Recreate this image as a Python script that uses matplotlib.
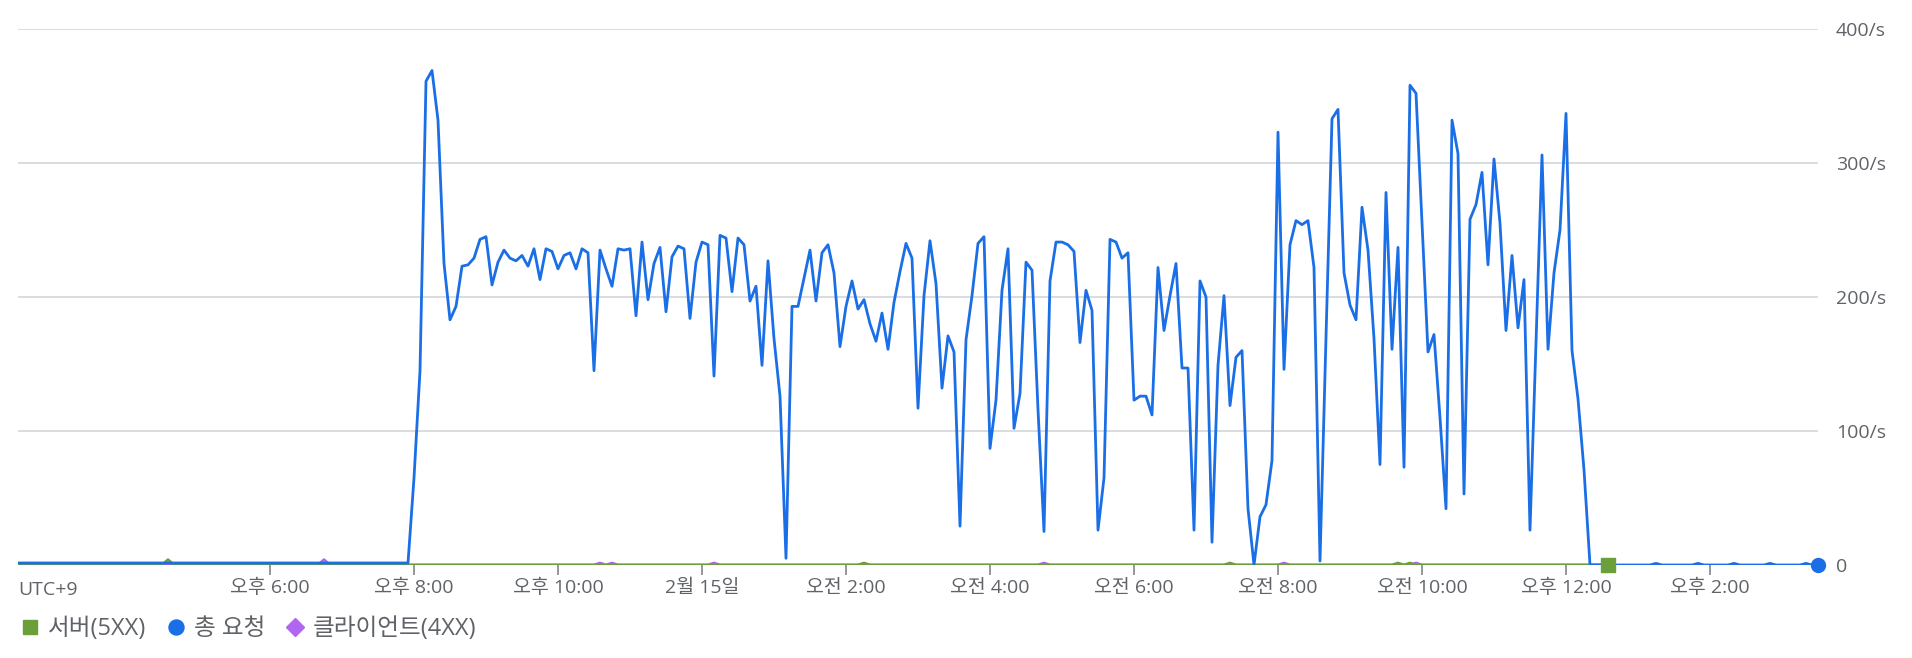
import matplotlib
matplotlib.use("Agg")
import matplotlib.pyplot as plt
from matplotlib.lines import Line2D
import pandas as pd

# 라틴 글자는 Open Sans, 한글은 Noto Sans CJK KR 로 넘어감
plt.rcParams['font.family'] = ['Open Sans', 'Noto Sans CJK KR', 'DejaVu Sans']

# 5분 간격: 2/14 14:30 ~ 2/15 15:30
times = pd.date_range('2024-02-14 14:30', periods=301, freq='5min')

# 총 요청 (req/s)
total_req = [
    1.5, 1.5, 1.5, 1.5, 1.5, 1.5, 1.5, 1.5, 1.5, 1.5,
    1.5, 1.5, 1.5, 1.5, 1.5, 1.5, 1.5, 1.5, 1.5, 1.5,
    1.5, 1.5, 1.5, 1.5, 1.5, 1.5, 1.5, 1.5, 1.5, 1.5,
    1.5, 1.5, 1.5, 1.5, 1.5, 1.5, 1.5, 1.5, 1.5, 1.5,
    1.5, 1.5, 1.5, 1.5, 1.5, 1.5, 1.5, 1.5, 1.5, 1.5,
    1.5, 1.5, 1.5, 1.5, 1.5, 1.5, 1.5, 1.5, 1.5, 1.5,
    1.5, 1.5, 1.5, 1.5, 1.5, 1.5, 65, 145, 361, 369,
    332, 225, 183, 193, 223, 224, 229, 243, 245, 209,
    226, 235, 229, 227, 231, 223, 236, 213, 236, 234,
    221, 231, 233, 221, 236, 233, 145, 235, 221, 208,
    236, 235, 236, 186, 241, 198, 225, 237, 189, 230,
    238, 236, 184, 226, 241, 239, 141, 246, 244, 204,
    244, 239, 197, 208, 149, 227, 169, 126, 5, 193,
    193, 214, 235, 197, 233, 239, 218, 163, 193, 212,
    191, 198, 180, 167, 188, 161, 196, 219, 240, 229,
    117, 201, 242, 210, 132, 171, 159, 29, 168, 201,
    240, 245, 87, 123, 205, 236, 102, 128, 226, 220,
    116, 25, 212, 241, 241, 239, 234, 166, 205, 190,
    26, 65, 243, 241, 229, 233, 123, 126, 126, 112,
    222, 175, 201, 225, 147, 147, 26, 212, 200, 17,
    149, 201, 119, 155, 160, 42, 0, 36, 45, 78,
    323, 146, 239, 257, 254, 257, 222, 3, 170, 333,
    340, 218, 194, 183, 267, 235, 169, 75, 278, 161,
    237, 73, 358, 352, 255, 159, 172, 110, 42, 332,
    307, 53, 258, 269, 293, 224, 303, 255, 175, 231,
    177, 213, 26, 165, 306, 161, 218, 250, 337, 160,
    124, 71, 0, 0, 0, 0, 0, 0, 0, 0,
    0, 0, 0, 1.2, 0, 0, 0, 0, 0, 0,
    1.2, 0, 0, 0, 0, 0, 1.2, 0, 0, 0,
    0, 0, 1.2, 0, 0, 0, 0, 0, 1.2, 0,
    0,
]

# 서버(5XX), 14:30 ~ 12:35
server_5xx = [
    0, 0, 0, 0, 0, 0, 0, 0, 0, 0, 0, 0, 0, 0, 0, 0, 0, 0, 0, 0,
    0, 0, 0, 0, 0, 4, 0, 0, 0, 0, 0, 0, 0, 0, 0, 0, 0, 0, 0, 0,
    0, 0, 0, 0, 0, 0, 0, 0, 0, 0, 0, 0, 0, 0, 0, 0, 0, 0, 0, 0,
    0, 0, 0, 0, 0, 0, 0, 0, 0, 0, 0, 0, 0, 0, 0, 0, 0, 0, 0, 0,
    0, 0, 0, 0, 0, 0, 0, 0, 0, 0, 0, 0, 0, 0, 0, 0, 0, 0, 0, 0,
    0, 0, 0, 0, 0, 0, 0, 0, 0, 0, 0, 0, 0, 0, 0, 0, 0, 0, 0, 0,
    0, 0, 0, 0, 0, 0, 0, 0, 0, 0, 0, 0, 0, 0, 0, 0, 0, 0, 0, 0,
    0, 1.5, 0, 0, 0, 0, 0, 0, 0, 0, 0, 0, 0, 0, 0, 0, 0, 0, 0, 0,
    0, 0, 0, 0, 0, 0, 0, 0, 0, 0, 0, 0, 0, 0, 0, 0, 0, 0, 0, 0,
    0, 0, 0, 0, 0, 0, 0, 0, 0, 0, 0, 0, 0, 0, 0, 0, 0, 0, 0, 0,
    0, 0, 1.5, 0, 0, 0, 0, 0, 0, 0, 0, 0, 0, 0, 0, 0, 0, 0, 0, 0,
    0, 0, 0, 0, 0, 0, 0, 0, 0, 0, 1.5, 0, 1.5, 0, 0, 0, 0, 0, 0, 0,
    0, 0, 0, 0, 0, 0, 0, 0, 0, 0, 0, 0, 0, 0, 0, 0, 0, 0, 0, 0,
    0, 0, 0, 0, 0, 0,
]

# 클라이언트(4XX)
client_4xx = [
    0, 0, 0, 0, 0, 0, 0, 0, 0, 0, 0, 0, 0, 0, 0, 0, 0, 0, 0, 0,
    0, 0, 0, 0, 0, 0, 0, 0, 0, 0, 0, 0, 0, 0, 0, 0, 0, 0, 0, 0,
    0, 0, 0, 0, 0, 0, 0, 0, 0, 0, 0, 4, 0, 0, 0, 0, 0, 0, 0, 0,
    0, 0, 0, 0, 0, 0, 0, 0, 0, 0, 0, 0, 0, 0, 0, 0, 0, 0, 0, 0,
    0, 0, 0, 0, 0, 0, 0, 0, 0, 0, 0, 0, 0, 0, 0, 0, 0, 1.5, 0, 1.5,
    0, 0, 0, 0, 0, 0, 0, 0, 0, 0, 0, 0, 0, 0, 0, 0, 1.5, 0, 0, 0,
    0, 0, 0, 0, 0, 0, 0, 0, 0, 0, 0, 0, 0, 0, 0, 0, 0, 0, 0, 0,
    0, 0, 0, 0, 0, 0, 0, 0, 0, 0, 0, 0, 0, 0, 0, 0, 0, 0, 0, 0,
    0, 0, 0, 0, 0, 0, 0, 0, 0, 0, 0, 1.5, 0, 0, 0, 0, 0, 0, 0, 0,
    0, 0, 0, 0, 0, 0, 0, 0, 0, 0, 0, 0, 0, 0, 0, 0, 0, 0, 0, 0,
    0, 0, 0, 0, 0, 0, 0, 0, 0, 0, 0, 1.5, 0, 0, 0, 0, 0, 0, 0, 0,
    0, 0, 0, 0, 0, 0, 0, 0, 0, 0, 0, 0, 0, 1.5, 0, 0, 0, 0, 0, 0,
    0, 0, 0, 0, 0, 0, 0, 0, 0, 0, 0, 0, 0, 0, 0, 0, 0, 0, 0, 0,
    0, 0, 0, 0, 0, 0,
]

tick_times = pd.date_range('2024-02-14 18:00', periods=11, freq='2h')
tick_labels = ['오후 6:00', '오후 8:00', '오후 10:00', '2월 15일', '오전 2:00',
               '오전 4:00', '오전 6:00', '오전 8:00', '오전 10:00', '오후 12:00',
               '오후 2:00']
y_ticks = [0, 100, 200, 300, 400]
y_labels = ['0', '100/s', '200/s', '300/s', '400/s']
legend_labels = ['서버(5XX)', '총 요청', '클라이언트(4XX)']

blue = '#1a6ee6'
green = '#6a9f3a'
purple = '#b264f2'
text_c = '#5f6368'
grid_c = '#dadce0'

W, H = 1912, 658
fig = plt.figure(figsize=(W / 100, H / 100), dpi=100)
ax = fig.add_axes([18 / W, 93 / H, 1800 / W, 536 / H])

n5 = len(server_5xx)
n4 = len(client_4xx)
ax.plot(times[:n4], client_4xx, color=purple, lw=2, zorder=3)
ax.plot(times[:n5], server_5xx, color=green, lw=2, zorder=4)
ax.plot(times, total_req, color=blue, lw=2, zorder=5)
ax.plot([times[n5 - 1]], [server_5xx[-1]], 's', color=green, ms=10,
        clip_on=False, zorder=6)
ax.plot([times[-1]], [total_req[-1]], 'o', color=blue, ms=10,
        clip_on=False, zorder=6)

ax.set_xlim(times[0], times[-1])
ax.set_ylim(0, 400)
for s in ax.spines.values():
    s.set_visible(False)

ax.set_xticks(tick_times)
ax.set_xticklabels(tick_labels)
ax.tick_params(axis='x', direction='out', length=7, width=1.2,
               color='#80868b', labelcolor=text_c, labelsize=14, pad=3)

ax.yaxis.tick_right()
ax.set_yticks(y_ticks)
ax.set_yticklabels(y_labels)
ax.tick_params(axis='y', length=0, labelcolor=text_c, labelsize=14, pad=13)
ax.grid(axis='y', color=grid_c, lw=1.4, zorder=0)

fig.text(18 / W, 1 - 590 / H, 'UTC+9', color=text_c, fontsize=14,
         va='center', ha='left')

handles = [
    Line2D([], [], ls='none', marker='s', color=green, ms=10),
    Line2D([], [], ls='none', marker='o', color=blue, ms=10.8),
    Line2D([], [], ls='none', marker='D', color=purple, ms=9.3),
]
leg = fig.legend(handles, legend_labels, loc='center left',
                 bbox_to_anchor=(20.6 / W, 1 - 629 / H), ncol=3, frameon=False,
                 fontsize=17, handlelength=0.8, handletextpad=0.36,
                 columnspacing=0.85, borderpad=0, borderaxespad=0)
for t in leg.get_texts():
    t.set_color(text_c)

fig.savefig('out.png', dpi=100)
